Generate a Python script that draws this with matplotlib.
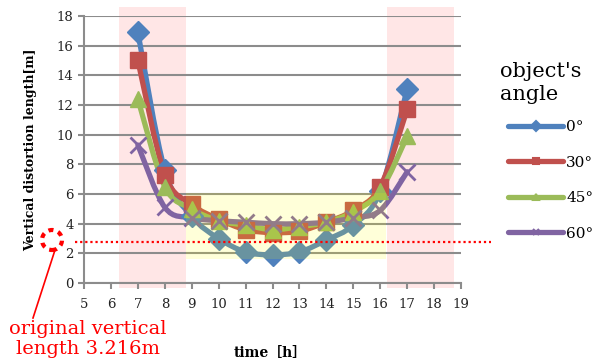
import matplotlib
matplotlib.use("Agg")
import matplotlib.pyplot as plt
import numpy as np
from matplotlib.path import Path
from matplotlib.patches import PathPatch, Rectangle, Ellipse
from matplotlib.lines import Line2D

hours = [7, 8, 9, 10, 11, 12, 13, 14, 15, 16, 17]
angle_0 = [16.9, 7.6, 4.5, 3.0, 2.1, 1.9, 2.1, 2.9, 3.9, 6.2, 13.1]
angle_30 = [15.0, 7.3, 5.3, 4.3, 3.6, 3.4, 3.5, 4.1, 4.9, 6.5, 11.7]
angle_45 = [12.4, 6.5, 5.0, 4.2, 3.9, 3.6, 3.8, 4.1, 4.8, 6.2, 9.9]
angle_60 = [9.3, 5.1, 4.4, 4.2, 4.1, 4.0, 4.0, 4.1, 4.4, 4.9, 7.5]
labels = ["0°", "30°", "45°", "60°"]

ref_level = 2.75
night_spans = [(6.3, 8.8), (16.25, 18.75)]
day_box = (8.8, 16.2, 1.6, 6.05)

colors = ["#4F81BD", "#C0504D", "#9BBB59", "#8064A2"]
markers = ["D", "s", "^", "x"]
msizes = [11, 11, 11, 11]

plt.rcParams['font.family'] = ['DejaVu Serif']


def smooth_path(xs, ys):
    # Catmull-Rom style bezier, like spreadsheet "smoothed line"
    pts = np.column_stack([xs, ys]).astype(float)
    n = len(pts)
    verts = [pts[0]]
    codes = [Path.MOVETO]
    for i in range(n - 1):
        p0 = pts[i - 1] if i > 0 else pts[i]
        p1 = pts[i]
        p2 = pts[i + 1]
        p3 = pts[i + 2] if i + 2 < n else pts[i + 1]
        c1 = p1 + (p2 - p0) / 6
        c2 = p2 - (p3 - p1) / 6
        verts += [c1, c2, p2]
        codes += [Path.CURVE4] * 3
    return Path(verts, codes)


fig = plt.figure(figsize=(5.98, 3.62), dpi=100)
ax = fig.add_axes([0.1405, 0.218, 0.6305, 0.738])

for x0, x1 in night_spans:
    ax.add_patch(Rectangle((x0, -0.3), x1 - x0, 18.9, facecolor="#FFE6E6",
                           edgecolor="none", zorder=0, clip_on=False))

ax.set_xlim(5, 19)
ax.set_ylim(0, 18)
ax.set_yticks(range(0, 19, 2))
ax.set_xticks(range(5, 20))
ax.yaxis.grid(True, color="#8C8C8C", lw=1.5, zorder=1)
ax.set_axisbelow(True)
for s in ["top", "right"]:
    ax.spines[s].set_visible(False)
for s in ["left", "bottom"]:
    ax.spines[s].set_color("#8C8C8C")
    ax.spines[s].set_linewidth(1.5)
ax.tick_params(axis="both", colors="#8C8C8C", length=4, width=1.5, labelsize=9.5,
               labelcolor="#222222")
ax.tick_params(axis="x", pad=7)
ax.patch.set_alpha(0)

series = [angle_0, angle_30, angle_45, angle_60]
for vals, c, m, ms in zip(series, colors, markers, msizes):
    ax.add_patch(PathPatch(smooth_path(hours, vals), facecolor="none", edgecolor=c,
                           lw=3.8, zorder=3, capstyle="round"))
    if m == "x":
        ax.plot(hours, vals, ls="none", marker=m, ms=ms, mew=2, color=c, zorder=4)
    else:
        ax.plot(hours, vals, ls="none", marker=m, ms=ms, color=c, mec=c, zorder=4)

x0, x1, y0, y1 = day_box
ax.add_patch(Rectangle((x0, y0), x1 - x0, y1 - y0, facecolor="#FFFF00", alpha=0.15,
                       edgecolor="none", zorder=5))

ax.plot([4.67, 20.1], [ref_level, ref_level], ls=(0, (1, 1.3)), color="red", lw=1.6,
        clip_on=False, zorder=6)

ax.set_ylabel("Vertical distortion length[m]", fontsize=9, fontweight="bold")
ax.yaxis.set_label_coords(-0.125, 0.5)
ax.set_xlabel("time［h］", fontsize=10, fontweight="bold",
              family=["DejaVu Serif", "Noto Sans CJK JP"])
ax.xaxis.set_label_coords(0.495, -0.235)

# legend: title as its own text, entries below
fig.text(500 / 598, 1 - 83 / 362, "object's\nangle", fontsize=15, ha="left",
         va="center", linespacing=1.3)
handles = [Line2D([], [], color=c, lw=3.8, marker=m, ms=5, mew=1.5, solid_capstyle="round")
           for c, m in zip(colors, markers)]
fig.legend(handles, labels, loc="center left", bbox_to_anchor=(508 / 598, 1 - 180.5 / 362),
           frameon=False, fontsize=11, handlelength=3.6, handletextpad=0.2,
           labelspacing=1.4, borderpad=0, borderaxespad=0)

# annotation for the original vertical length
fig.patches.append(Ellipse((52 / 598, 1 - 240 / 362), 20 / 598, 20 / 362,
                           transform=fig.transFigure, fill=False, edgecolor="red",
                           lw=3, ls=(0, (1.2, 1.2))))
fig.add_artist(Line2D([55 / 598, 33 / 598], [1 - 250 / 362, 1 - 318 / 362],
                      color="red", lw=1.2, transform=fig.transFigure))
fig.text(88 / 598, 1 - 339 / 362, "original vertical\nlength 3.216m", color="red",
         fontsize=14, ha="center", va="center", linespacing=1.15)

fig.savefig("out.png", dpi=100)
